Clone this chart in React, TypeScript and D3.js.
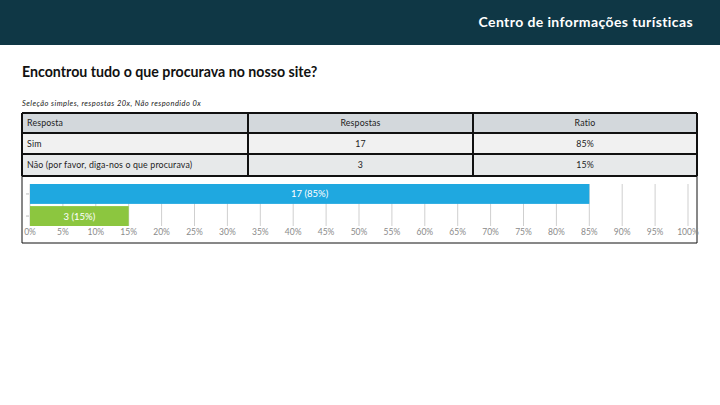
import { useMemo } from "react";
import * as d3 from "d3";

// ── data ────────────────────────────────────────────────────────────────
const answers = ["Sim", "Não (por favor, diga-nos o que procurava)"];
const counts = [17, 3];
const ratios = [85, 15];
const tableHeader = ["Resposta", "Respostas", "Ratio"];
const barColors = ["#1fa8e0", "#8cc63f"];
const tickValues = d3.range(0, 101, 5);

const W = 720;
const H = 405;
const FONT = "Lato, 'Open Sans', sans-serif";

// layout
const TABLE = { left: 22, right: 697, top: 113, rows: [113, 133, 154, 176] };
const COLS = [22, 248, 473, 697];
const PLOT = { left: 30, right: 688, top: 184, bottom: 226, boxBottom: 243 };

export default function App() {
  const x = useMemo(
    () => d3.scaleLinear().domain([0, 100]).range([PLOT.left, PLOT.right]),
    []
  );
  const y = useMemo(
    () =>
      d3
        .scaleBand<string>()
        .domain(answers)
        .range([PLOT.top, PLOT.bottom])
        .paddingInner(0.1)
        .paddingOuter(0),
    []
  );

  const rowFills = ["#d3d8dc", "#f1f1f1", "#e7e9ea"];

  return (
    <svg
      width={W}
      height={H}
      style={{ position: "absolute", left: 0, top: 0, background: "#fff" }}
      fontFamily={FONT}
    >
      {/* header band */}
      <rect x={0} y={0} width={W} height={45} fill="#0f3745" />
      <text
        x={693}
        y={27}
        textAnchor="end"
        fill="#fff"
        fontSize={14}
        fontWeight={700}
        letterSpacing={0.4}
      >
        Centro de informações turísticas
      </text>

      {/* question */}
      <text x={22} y={77} fontSize={14.2} fontWeight={700} fill="#111">
        Encontrou tudo o que procurava no nosso site?
      </text>
      <text
        x={22}
        y={106}
        fontSize={7.5}
        fontStyle="italic"
        fill="#222"
        letterSpacing={0.45}
      >
        Seleção simples, respostas 20x, Não respondido 0x
      </text>

      {/* table */}
      {[0, 1, 2].map((r) => (
        <rect
          key={r}
          x={TABLE.left}
          y={TABLE.rows[r]}
          width={TABLE.right - TABLE.left}
          height={TABLE.rows[r + 1] - TABLE.rows[r]}
          fill={rowFills[r]}
        />
      ))}
      {TABLE.rows.map((ry, i) => (
        <line
          key={"h" + i}
          x1={TABLE.left}
          x2={TABLE.right}
          y1={ry}
          y2={ry}
          stroke="#111"
          strokeWidth={2}
        />
      ))}
      {COLS.map((cx, i) => (
        <line
          key={"v" + i}
          x1={cx}
          x2={cx}
          y1={TABLE.top}
          y2={TABLE.rows[3]}
          stroke="#111"
          strokeWidth={2}
        />
      ))}
      {[tableHeader, ...answers.map((a, i) => [a, String(counts[i]), `${ratios[i]}%`])].map(
        (row, r) => {
          const cy = (TABLE.rows[r] + TABLE.rows[r + 1]) / 2 + 3;
          return (
            <g key={"row" + r} fontSize={8.8} fill="#222" letterSpacing={0.15}>
              <text x={27} y={cy}>
                {row[0]}
              </text>
              <text x={(COLS[1] + COLS[2]) / 2} y={cy} textAnchor="middle">
                {row[1]}
              </text>
              <text x={(COLS[2] + COLS[3]) / 2} y={cy} textAnchor="middle">
                {row[2]}
              </text>
            </g>
          );
        }
      )}

      {/* chart box */}
      <path
        d={`M${TABLE.left},${TABLE.rows[3]}V${PLOT.boxBottom}H${TABLE.right}V${TABLE.rows[3]}`}
        fill="none"
        stroke="#111"
        strokeWidth={1}
      />

      {/* gridlines */}
      {tickValues.map((t) => (
        <line
          key={"g" + t}
          x1={x(t)}
          x2={x(t)}
          y1={PLOT.top}
          y2={PLOT.bottom}
          stroke="#cfcfcf"
          strokeWidth={1}
        />
      ))}

      {/* category ticks */}
      {answers.map((a) => (
        <line
          key={"ct" + a}
          x1={26}
          x2={29}
          y1={(y(a) ?? 0) + y.bandwidth() / 2}
          y2={(y(a) ?? 0) + y.bandwidth() / 2}
          stroke="#bbb"
        />
      ))}

      {/* bars */}
      {answers.map((a, i) => (
        <g key={"b" + a}>
          <rect
            x={x(0)}
            y={y(a)}
            width={x(ratios[i]) - x(0)}
            height={y.bandwidth()}
            fill={barColors[i]}
          />
          <text
            x={(x(0) + x(ratios[i])) / 2}
            y={(y(a) ?? 0) + y.bandwidth() / 2 + 3.5}
            textAnchor="middle"
            fill="#fff"
            fontSize={9.5}
          >
            {`${counts[i]} (${ratios[i]}%)`}
          </text>
        </g>
      ))}

      {/* x tick labels */}
      {tickValues.map((t) => (
        <text
          key={"tl" + t}
          x={x(t)}
          y={235}
          textAnchor="middle"
          fontSize={8.5}
          fill="#8a8a8a"
        >
          {`${t}%`}
        </text>
      ))}
    </svg>
  );
}
